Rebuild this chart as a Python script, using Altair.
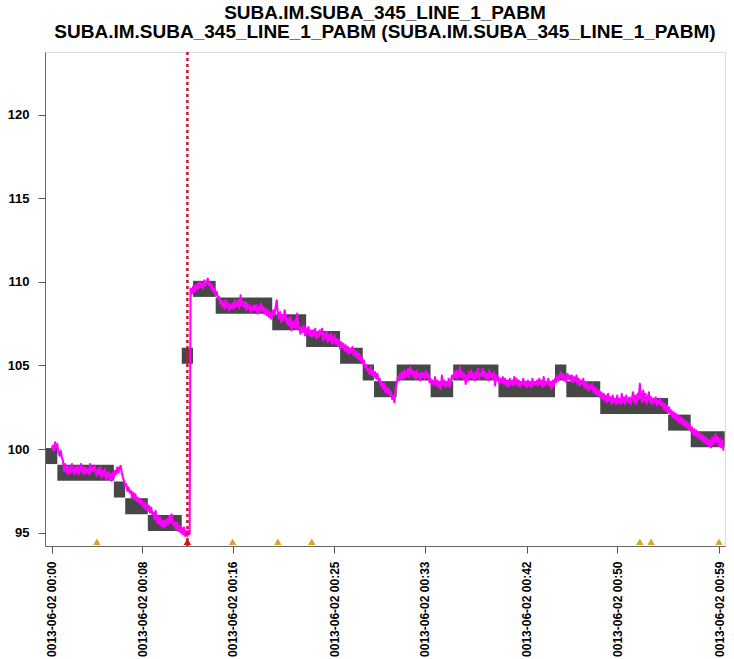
import altair as alt
import pandas as pd

# ---- data ----
title_lines = ["SUBA.IM.SUBA_345_LINE_1_PABM",
               "SUBA.IM.SUBA_345_LINE_1_PABM (SUBA.IM.SUBA_345_LINE_1_PABM)"]

x_tick_minutes = [0, 8, 16, 25, 33, 42, 50, 59]
x_tick_labels = ["0013-06-02 00:00", "0013-06-02 00:08", "0013-06-02 00:16",
                 "0013-06-02 00:25", "0013-06-02 00:33", "0013-06-02 00:42",
                 "0013-06-02 00:50", "0013-06-02 00:59"]
y_ticks = [95, 100, 105, 110, 115, 120]

# gray quantised boxes: start minute, end minute, level
box_start = [-0.5, 0.5, 5.5, 6.5, 8.5, 11.5, 12.5, 14.5, 19.5, 22.5, 25.5,
             27.5, 28.5, 30.5, 33.5, 35.5, 39.5, 44.5, 45.5, 48.5, 54.5, 56.5]
box_end = [0.5, 5.5, 6.5, 8.5, 11.5, 12.5, 14.5, 19.5, 22.5, 25.5, 27.5,
           28.5, 30.5, 33.5, 35.5, 39.5, 44.5, 45.5, 48.5, 54.5, 56.5, 59.5]
box_level = [100, 99, 98, 97, 96, 106, 110, 109, 108, 107, 106,
             105, 104, 105, 104, 105, 104, 105, 104, 103, 102, 101]

# magenta signal, sampled every 0.1 min
sample_step = 0.1
signal_pre = [  # t = 0.0 ... 12.2
    100.0, 100.2, 99.9, 100.4, 100.1, 100.3, 99.8, 99.6, 99.9, 99.5,
    99.3, 98.7, 99.1, 98.6, 99.0, 98.5, 98.9, 98.6, 99.1, 98.7,
    98.5, 98.9, 98.6, 99.0, 98.5, 98.8, 99.1, 98.6, 98.9, 98.5,
    98.9, 98.6, 98.8, 98.5, 99.1, 98.6, 98.9, 98.7, 99.0, 98.6,
    98.4, 98.8, 98.5, 98.9, 98.3, 98.7, 98.4, 98.8, 98.2, 98.5,
    98.6, 98.2, 98.5, 98.1, 98.6, 98.3, 98.7, 98.5, 98.9, 98.6,
    98.9, 99.0, 98.6, 98.3, 98.1, 97.8, 97.9, 97.5, 97.7, 97.4,
    97.5, 97.1, 97.4, 97.0, 97.3, 96.9, 97.1, 96.8, 97.0, 96.7,
    96.9, 96.5, 96.8, 96.4, 96.7, 96.3, 96.6, 96.2, 96.5, 96.1,
    96.2, 95.8, 96.3, 95.6, 96.0, 95.5, 95.9, 95.4, 95.7, 95.3,
    95.7, 95.4, 95.8, 95.5, 96.0, 95.6, 96.1, 95.7, 95.4, 95.6,
    95.2, 95.6, 95.1, 95.4, 95.0, 95.3, 94.9, 95.3, 94.8, 95.1,
    94.8, 95.1, 94.9,
]
jump_minute = 12.28
jump_top = 109.6
post_start = 12.4
signal_post = [  # t = 12.4 ... 59.4
    109.3, 109.7, 109.4, 109.8, 109.5, 109.9,
    109.6, 110.0, 109.7, 109.9, 109.6, 110.1, 109.8, 110.0, 110.2, 109.8,
    109.9, 109.6, 109.8, 109.4, 109.6, 109.2, 109.4, 109.0, 109.1, 108.7,
    108.9, 108.5, 108.8, 108.4, 108.9, 108.5, 108.7, 108.3, 108.6, 108.4,
    108.7, 108.4, 108.9, 108.5, 108.6, 108.9, 108.4, 109.2, 108.6, 108.8,
    108.5, 108.8, 108.3, 108.7, 108.4, 108.6, 108.2, 108.5, 108.3, 108.6,
    108.3, 108.6, 108.1, 108.5, 108.2, 108.7, 108.3, 108.5, 108.1, 108.4,
    108.0, 108.3, 107.9, 108.2, 107.8, 108.1, 108.3, 108.0, 108.5, 108.9,
    108.1, 107.8, 108.2, 107.6, 108.0, 107.7, 108.3, 107.9, 107.5, 107.8,
    107.4, 107.9, 107.1, 107.6, 107.3, 107.7, 107.2, 108.1, 107.5, 107.2,
    106.9, 107.3, 107.0, 107.4, 106.8, 107.2, 106.9, 107.3, 106.8, 107.1,
    106.7, 107.1, 106.8, 107.2, 106.6, 107.0, 106.7, 107.1, 106.9, 107.2,
    106.5, 106.9, 106.6, 107.0, 106.4, 106.8, 106.5, 106.9, 106.3, 106.6,
    106.8, 106.3, 106.6, 106.2, 106.5, 106.0, 106.4, 106.1, 106.3, 105.9,
    106.2, 105.8, 106.1, 105.7, 106.0, 105.8, 106.1, 105.6, 105.9, 105.5,
    105.8, 105.4, 105.7, 105.3, 105.5, 105.1, 105.3, 104.9, 105.0, 104.7,
    104.8, 104.5, 104.9, 104.4, 104.7, 104.3, 104.6, 104.2, 104.5, 104.1,
    104.2, 103.8, 104.0, 103.6, 103.9, 103.4, 103.7, 103.3, 103.6, 103.2,
    103.4, 103.0, 103.2, 102.8, 103.6, 103.9, 104.3, 104.1, 104.5, 104.2,
    104.6, 104.2, 104.7, 104.3, 104.5, 104.8, 104.3, 104.9, 104.5, 104.7,
    104.3, 104.6, 104.2, 104.7, 104.3, 104.5, 104.1, 104.6, 104.3, 104.5,
    104.2, 104.7, 104.3, 104.5, 104.0, 104.2, 103.8, 104.1, 103.9, 104.3,
    103.8, 104.1, 103.7, 104.0, 103.6, 104.4, 103.9, 104.1, 103.7, 104.0,
    103.8, 104.2, 103.7, 104.1, 104.4, 104.2, 104.6, 104.3, 104.7, 104.2,
    104.5, 104.9, 104.3, 104.6, 104.2, 104.5, 103.9, 104.4, 104.1, 104.6,
    104.3, 104.7, 104.2, 104.5, 104.1, 104.6, 104.3, 104.8, 104.2, 104.5,
    104.4, 104.8, 104.3, 104.6, 104.2, 104.5, 104.1, 104.7, 104.3, 104.5,
    104.2, 104.6, 103.8, 104.4, 104.1, 104.3, 103.9, 104.2, 104.0, 104.3,
    103.9, 104.2, 103.8, 104.1, 103.7, 104.2, 103.9, 104.1, 103.8, 104.3,
    103.9, 104.2, 103.8, 104.1, 103.7, 104.0, 103.9, 104.2, 103.8, 104.0,
    103.7, 104.1, 103.8, 104.0, 103.7, 104.2, 103.8, 104.0, 103.9, 104.1,
    103.8, 104.2, 103.9, 104.1, 103.7, 104.3, 103.8, 104.0, 103.9, 104.2,
    103.8, 104.0, 103.6, 104.1, 103.8, 104.2, 104.0, 104.4, 104.1, 104.3,
    104.6, 104.2, 104.5, 104.1, 104.4, 104.0, 104.5, 104.2, 104.4, 104.1,
    104.4, 104.0, 104.3, 104.1, 104.4, 103.9, 104.2, 103.8, 104.1, 103.9,
    104.2, 103.7, 104.0, 103.6, 103.9, 103.5, 103.8, 103.6, 103.9, 103.4,
    103.7, 103.3, 103.6, 103.2, 103.5, 103.1, 103.4, 103.0, 103.3, 102.9,
    103.2, 102.8, 103.3, 102.9, 103.1, 102.7, 103.2, 102.8, 103.0, 102.7,
    103.2, 102.8, 103.0, 102.7, 103.3, 102.8, 103.1, 102.7, 103.2, 102.9,
    102.8, 103.1, 102.7, 103.0, 103.4, 102.8, 103.2, 102.7, 103.3, 103.0,
    103.9, 103.2, 102.8, 103.5, 102.9, 103.3, 102.7, 103.1, 103.4, 102.8,
    103.1, 102.7, 103.0, 102.8, 103.1, 102.6, 102.9, 102.7, 103.0, 102.6,
    102.8, 102.4, 102.7, 102.3, 102.6, 102.2, 102.5, 102.1, 102.3, 101.9,
    102.2, 101.8, 102.1, 101.7, 102.0, 101.6, 101.9, 101.5, 101.8, 101.4,
    101.7, 101.3, 101.6, 101.2, 101.5, 101.1, 101.3, 100.9, 101.2, 100.8,
    101.1, 100.7, 101.0, 100.6, 100.9, 100.5, 100.8, 100.4, 100.7, 100.3,
    100.6, 100.2, 100.5, 100.1, 100.7, 100.3, 100.6, 100.9, 100.4, 100.7,
    100.2, 100.6, 100.1, 100.5, 99.9,
]

event_minute = 12.0                      # red dotted line / red marker
marker_minutes = [4.0, 16.0, 20.0, 23.0, 52.0, 53.0, 59.0, 12.0]
marker_kind = ["info", "info", "info", "info", "info", "info", "info", "alarm"]
marker_y = 94.45

# ---- tables ----
boxes = pd.DataFrame({"start": box_start, "end": box_end,
                      "lo": [v - 0.9 for v in box_level],
                      "hi": [v + 0.06 for v in box_level]})

t_vals, s_vals = [], []
for i, v in enumerate(signal_pre):
    t_vals.append(round(i * sample_step, 3)); s_vals.append(v)
t_vals.append(jump_minute); s_vals.append(jump_top)
for i, v in enumerate(signal_post):
    t_vals.append(round(post_start + i * sample_step, 3)); s_vals.append(v)
signal = pd.DataFrame({"t": t_vals, "v": s_vals})

markers = pd.DataFrame({"t": marker_minutes, "kind": marker_kind,
                        "y": [marker_y] * len(marker_minutes)})
event = pd.DataFrame({"t": [event_minute]})

# ---- scales / axes ----
FONT = "Liberation Sans"
x_dom = [-0.59, 59.53]
y_dom = [94.2, 123.75]
label_map = "{" + ",".join(f"'{m}':'{l}'" for m, l in zip(x_tick_minutes, x_tick_labels)) + "}"

x_enc = alt.X("start:Q", scale=alt.Scale(domain=x_dom, nice=False, zero=False),
              axis=alt.Axis(values=x_tick_minutes, labelExpr=label_map + "[datum.value]",
                            labelAngle=270, labelAlign="right", labelBaseline="middle",
                            labelFont=FONT, labelFontSize=12, labelFontWeight="bold",
                            labelColor="black", labelPadding=8, labelOverlap=False,
                            labelFlush=False, tickSize=7, tickColor="#555",
                            domainColor="#666", grid=False, title=None))
y_enc = alt.Y("lo:Q", scale=alt.Scale(domain=y_dom, nice=False, zero=False),
              axis=alt.Axis(values=y_ticks, labelFont=FONT, labelFontSize=13,
                            labelFontWeight="bold", labelColor="black", labelPadding=9,
                            tickSize=7, tickColor="#555", domainColor="#666",
                            grid=False, title=None))

box_layer = alt.Chart(boxes).mark_rect(color="#474747").encode(
    x=x_enc, x2="end:Q", y=y_enc, y2="hi:Q")

line_layer = alt.Chart(signal).mark_line(color="#ff00ff", strokeWidth=2.1,
                                         strokeJoin="round").encode(
    x="t:Q", y="v:Q", order="t:Q")

rule_layer = alt.Chart(event).mark_rule(color="#cc1133", strokeWidth=2.5,
                                        strokeDash=[3, 3]).encode(x="t:Q")

marker_layer = alt.Chart(markers).mark_point(shape="triangle-up", filled=True,
                                             size=55, opacity=1).encode(
    x="t:Q", y="y:Q",
    color=alt.Color("kind:N", scale=alt.Scale(domain=["info", "alarm"],
                                              range=["#d9a62a", "#e01010"]),
                    legend=None))

chart = alt.layer(box_layer, line_layer, rule_layer, marker_layer).properties(
    width=680, height=494,
    padding={"left": 45, "top": 52, "right": 9, "bottom": 113},
    autosize="none",
    title=alt.TitleParams(text=title_lines, font=FONT, fontSize=19, fontWeight="bold",
                          color="black", lineHeight=19, anchor="middle",
                          baseline="bottom", offset=-10),
).configure_view(stroke="#777", strokeWidth=1).configure(background="white")

chart.save("out.html", embed_options={"renderer": "svg", "actions": False})
